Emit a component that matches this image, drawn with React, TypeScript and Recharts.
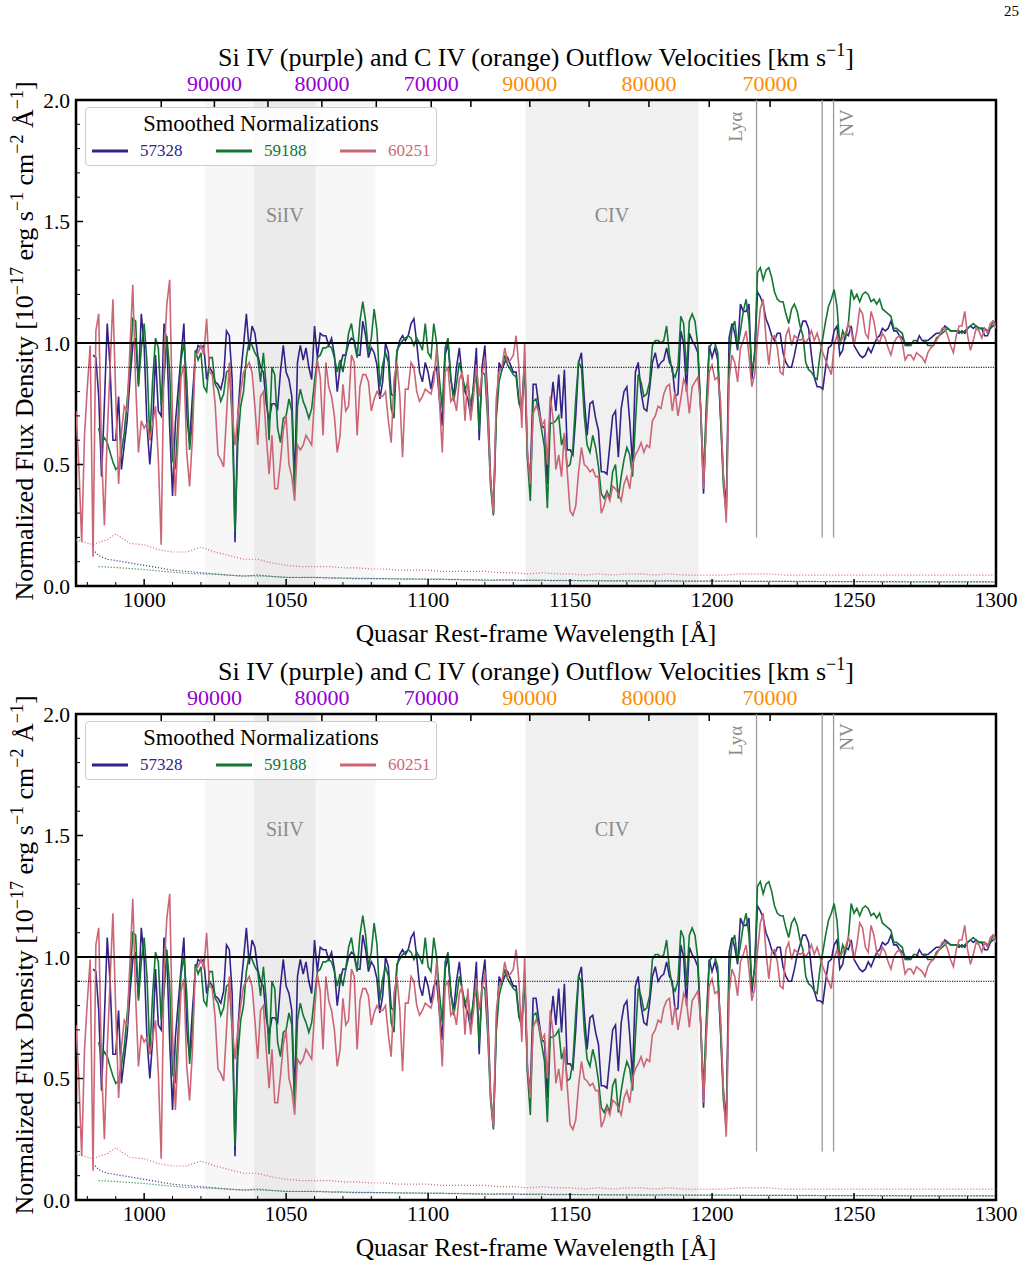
import React from 'react';
import {
  LineChart,
  Line,
  XAxis,
  YAxis,
  ReferenceArea,
  ReferenceLine,
  ReferenceDot,
  Legend,
} from 'recharts';

const SERIF = "'Liberation Serif', 'Times New Roman', Times, serif";
const C_KMS = 299792.458;

// Smoothed, normalized spectra on a 1 Å rest-frame grid starting at 976 Å.
const WAVE_START = 976;

const flux57328 = [
  null, null, null, null, null, null, 0.95, 0.94, 0.78, 0.45,
  0.75, 1.08, 0.90, 0.60, 0.60, 0.78, 0.48, 0.58, 0.68, 0.85,
  0.99, 1.02, 0.83, 1.12, 0.99, 0.66, 0.50, 0.66, 0.95, 0.72,
  0.70, 1.08, 1.00, 0.65, 0.37, 0.67, 0.81, 0.95, 1.08, 0.70,
  0.59, 0.78, 0.94, 0.99, 0.98, 0.99, 0.85, 0.90, 0.88, 0.84,
  0.83, 0.81, 0.86, 1.05, 1.03, 0.85, 0.18, 0.70, 0.87, 0.99,
  1.12, 0.97, 1.07, 1.04, 0.95, 0.90, 0.88, 0.75, 0.68, 0.75,
  0.75, 0.73, 0.88, 0.99, 0.88, 0.85, 0.78, 0.42, 0.92, 0.99,
  0.93, 0.98, 0.90, 0.85, 1.07, 0.94, 1.04, 1.03, 1.03, 0.99,
  1.02, 0.95, 0.80, 0.90, 0.95, 0.95, 1.00, 1.02, 1.01, 0.95,
  0.95, 1.09, 1.03, 0.94, 0.98, 0.96, 0.91, 0.77, 0.84, 1.00,
  0.96, 0.79, 0.78, 0.96, 1.01, 1.03, 1.01, 1.03, 1.08, 1.10,
  1.00, 0.88, 0.84, 0.92, 0.88, 0.81, 0.88, 0.90, 0.77, 0.66,
  0.95, 1.00, 0.85, 0.78, 0.90, 0.98, 0.86, 0.80, 0.77, 0.70,
  0.83, 0.98, 0.60, 0.90, 0.99, 0.77, 0.44, 0.30, 0.71, 0.92,
  0.89, 0.92, 0.94, 0.91, 0.88, 0.88, 0.76, 0.71, 0.92, 0.53,
  0.45, 0.83, 0.83, 0.74, 0.66, 0.65, 0.42, 0.72, 0.84, 0.72,
  0.87, 0.69, 0.89, 0.56, 0.56, 0.54, 0.70, 0.92, 0.96, 0.77,
  0.62, 0.75, 0.76, 0.69, 0.64, 0.47, 0.47, 0.46, 0.58, 0.70,
  0.72, 0.53, 0.73, 0.80, 0.82, 0.68, 0.50, 0.88, 0.92, 0.80,
  0.73, 0.72, 0.81, 0.92, 0.96, 0.90, 0.92, 0.93, 0.98, 0.92,
  0.90, 0.78, 0.79, 1.05, 1.00, 0.80, 1.04, 1.01, 0.99, 0.96,
  0.72, 0.38, 0.70, 0.99, 0.94, 0.98, 0.93, 0.70, 0.45, 0.32,
  1.02, 1.08, 1.04, 0.97, 1.16, 1.13, 1.13, 1.16, 0.85, 0.96,
  1.21, 1.19, 1.16, 1.10, 1.07, 1.03, 1.01, 1.04, 1.04, 0.96,
  0.92, 0.90, 0.90, 0.95, 1.01, 1.05, 1.09, 1.09, 1.06, 0.95,
  0.86, 0.82, 0.82, 0.81, 0.90, 0.98, 0.99, 1.05, 1.07, 0.95,
  0.97, 1.04, 1.03, 1.07, 0.99, 0.97, 0.95, 0.94, 0.95, 0.98,
  0.96, 0.99, 1.02, 1.03, 1.06, 1.05, 1.06, 1.09, 1.05, 1.05,
  1.03, 1.02, 1.00, 0.99, 1.00, 1.00, 1.00, 1.03, 1.01, 1.01,
  1.01, 1.02, 1.03, 1.04, 1.04, 1.05, 1.07, 1.06, 1.05, 1.05,
  1.05, 1.04, 1.05, 1.04, 1.06, 1.07, 1.06, 1.07, 1.06, 1.06,
  1.03, 1.03, 1.06, 1.07, 1.08,
];

const flux59188 = [
  null, null, null, null, null, null, null, null, 0.65, 0.59,
  0.61, 0.59, 0.55, 0.51, 0.48, 0.49, 0.55, 0.63, 0.76, 0.90,
  1.10, 1.09, 0.82, 0.98, 1.08, 0.92, 0.60, 0.85, 1.02, 0.98,
  0.74, 0.85, 1.03, 0.88, 0.52, 0.48, 0.70, 0.93, 1.00, 0.85,
  0.56, 0.68, 0.97, 0.93, 0.96, 0.82, 0.80, 0.94, 0.94, 0.83,
  0.81, 0.76, 0.79, 0.88, 0.89, 0.70, 0.22, 0.59, 0.74, 0.80,
  0.94, 1.01, 0.99, 0.96, 0.94, 0.84, 0.96, 0.82, 0.60, 0.90,
  0.87, 0.65, 0.59, 0.69, 0.70, 0.77, 0.72, 0.38, 0.74, 0.81,
  0.76, 0.73, 0.69, 0.73, 0.84, 0.94, 0.95, 0.98, 0.98, 0.99,
  0.98, 0.94, 0.88, 0.93, 0.88, 0.95, 1.04, 1.08, 1.00, 0.94,
  1.09, 1.17, 1.09, 0.96, 1.02, 1.14, 1.05, 0.82, 0.91, 0.96,
  0.92, 0.73, 0.69, 0.97, 0.99, 1.01, 1.02, 1.03, 1.02, 0.99,
  1.02, 1.00, 0.97, 1.08, 0.96, 0.94, 1.08, 1.00, 0.85, 0.73,
  0.98, 1.02, 0.86, 0.76, 0.83, 0.92, 0.87, 0.81, 0.84, 0.74,
  0.82, 0.87, 0.64, 0.88, 0.87, 0.68, 0.41, 0.29, 0.69, 0.84,
  0.89, 0.95, 0.91, 0.89, 0.87, 0.86, 0.75, 0.74, 0.93, 0.52,
  0.35, 0.76, 0.77, 0.71, 0.64, 0.57, 0.32, 0.67, 0.67, 0.68,
  0.70, 0.58, 0.62, 0.49, 0.50, 0.57, 0.77, 0.92, 0.90, 0.70,
  0.58, 0.55, 0.62, 0.57, 0.49, 0.38, 0.36, 0.39, 0.36, 0.47,
  0.50, 0.36, 0.45, 0.52, 0.57, 0.54, 0.45, 0.67, 0.87, 0.84,
  0.78, 0.79, 0.84, 0.99, 1.01, 1.01, 1.00, 1.01, 1.07, 0.95,
  0.88, 0.86, 0.90, 1.11, 1.08, 0.88, 1.09, 1.12, 1.09, 0.99,
  0.73, 0.45, 0.75, 0.98, 1.00, 1.00, 0.96, 0.69, 0.41, 0.30,
  0.92, 1.06, 1.09, 0.98, 1.05, 1.13, 1.18, 1.09, 0.88, 0.95,
  1.29, 1.31, 1.26, 1.30, 1.31, 1.27, 1.21, 1.18, 1.17, 1.17,
  1.12, 1.08, 1.14, 1.16, 1.13, 1.07, 1.03, 0.92, 0.89, 0.88,
  0.86, 0.85, 0.95, 1.02, 1.09, 1.15, 1.18, 1.22, 1.15, 0.99,
  1.05, 1.02, 1.08, 1.22, 1.18, 1.20, 1.17, 1.20, 1.21, 1.20,
  1.17, 1.18, 1.16, 1.18, 1.14, 1.13, 1.12, 1.11, 1.06, 1.06,
  1.05, 1.04, 0.99, 0.99, 0.99, 1.01, 1.01, 1.00, 1.00, 1.01,
  0.99, 0.99, 0.99, 1.02, 1.03, 1.04, 1.05, 1.06, 1.05, 1.05,
  1.05, 1.05, 1.04, 1.05, 1.06, 1.07, 1.08, 1.07, 1.06, 1.06,
  1.06, 1.05, 1.06, 1.09, 1.08,
];

const flux60251 = [
  0.72, 0.50, 0.18, 0.62, 0.82, 0.99, 0.12, 1.05, 1.12, 0.55,
  0.25, 0.62, 0.90, 1.18, 0.78, 0.42, 0.63, 0.74, 0.72, 0.98,
  1.24, 0.84, 0.55, 0.68, 0.65, 0.67, 0.60, 0.67, 0.74, 0.52,
  0.17, 0.95, 1.16, 1.26, 0.68, 0.37, 0.62, 0.86, 0.91, 0.55,
  0.41, 0.61, 0.95, 0.96, 0.99, 0.95, 1.10, 0.88, 0.87, 0.75,
  0.54, 0.52, 0.49, 0.70, 0.92, 0.72, 0.58, 0.70, 0.80, 0.88,
  0.90, 0.92, 0.88, 0.74, 0.58, 0.78, 0.80, 0.62, 0.46, 0.62,
  0.40, 0.40, 0.51, 0.64, 0.70, 0.50, 0.45, 0.35, 0.58, 0.56,
  0.58, 0.62, 0.60, 0.58, 0.77, 0.93, 0.86, 0.62, 0.92, 0.82,
  0.78, 0.70, 0.55, 0.62, 0.83, 0.72, 0.74, 0.95, 0.92, 0.62,
  0.82, 0.87, 0.87, 0.84, 0.72, 0.77, 0.80, 0.78, 0.78, 0.80,
  0.68, 0.59, 0.85, 0.92, 0.79, 0.53, 0.81, 0.81, 0.92, 0.90,
  0.80, 0.76, 0.78, 0.81, 0.80, 0.79, 0.84, 0.98, 0.76, 0.55,
  0.88, 0.90, 0.76, 0.78, 0.72, 0.85, 0.88, 0.68, 0.87, 0.68,
  0.78, 0.91, 0.78, 0.87, 0.94, 0.72, 0.43, 0.30, 0.77, 0.88,
  0.90, 0.98, 0.92, 0.93, 0.95, 1.03, 0.90, 0.65, 1.00, 0.55,
  0.42, 0.71, 0.74, 0.72, 0.66, 0.68, 0.50, 0.78, 0.69, 0.48,
  0.54, 0.45, 0.63, 0.47, 0.31, 0.29, 0.33, 0.47, 0.57, 0.50,
  0.49, 0.47, 0.48, 0.45, 0.45, 0.30, 0.33, 0.38, 0.35, 0.41,
  0.40, 0.38, 0.35, 0.42, 0.45, 0.40, 0.50, 0.54, 0.56, 0.59,
  0.55, 0.58, 0.57, 0.68, 0.70, 0.74, 0.73, 0.79, 0.82, 0.83,
  0.72, 0.80, 0.70, 0.77, 0.85, 0.82, 0.71, 0.82, 0.84, 0.86,
  0.74, 0.40, 0.67, 0.88, 0.91, 0.85, 0.86, 0.76, 0.45, 0.26,
  0.85, 0.95, 0.92, 0.84, 0.98, 1.01, 1.05, 0.95, 0.82, 0.87,
  1.02, 1.14, 1.18, 1.02, 0.91, 1.02, 1.03, 0.98, 0.88, 0.87,
  1.03, 1.06, 0.99, 1.03, 1.02, 1.01, 1.02, 1.00, 1.02, 1.05,
  1.01, 1.04, 1.00, 0.96, 0.93, 0.90, 0.87, 0.99, 1.03, 1.00,
  1.02, 1.04, 1.08, 1.05, 0.99, 1.05, 1.14, 1.12, 1.04, 1.02,
  1.13, 1.09, 1.02, 1.00, 1.04, 1.02, 0.98, 0.95, 1.00, 1.02,
  1.03, 1.00, 0.93, 0.95, 0.95, 0.93, 0.96, 0.95, 0.94, 0.92,
  0.96, 0.98, 0.99, 1.01, 1.03, 1.06, 1.06, 1.03, 0.99, 0.96,
  1.03, 1.07, 1.07, 1.13, 1.03, 0.97, 1.01, 1.06, 1.05, 1.02,
  1.06, 1.04, 1.08, 1.09, 1.06,
];

const wavelength = flux60251.map((_, i) => WAVE_START + i);

// Flux uncertainties on a coarser grid.
const errWavelength = [976, 979, 982, 984, 987, 990, ...Array.from({ length: 62 }, (_, i) => 995 + 5 * i)];

const err57328 = [
  null, null, 0.15, 0.125, 0.11, 0.105,
  0.095, 0.085, 0.075, 0.065, 0.06, 0.055, 0.05, 0.045, 0.04, 0.045,
  0.04, 0.035, 0.035, 0.035, 0.033, 0.032, 0.03, 0.03, 0.03, 0.028,
  0.028, 0.028, 0.027, 0.026, 0.025, 0.025, 0.024, 0.024, 0.023, 0.023,
  0.022, 0.022, 0.022, 0.021, 0.021, 0.021, 0.02, 0.02, 0.022, 0.02,
  0.02, 0.02, 0.02, 0.02, 0.019, 0.019, 0.019, 0.019, 0.019, 0.018,
  0.018, 0.018, 0.018, 0.018, 0.018, 0.017, 0.017, 0.017, 0.017, 0.017,
  0.017, 0.017,
];

const err59188 = [
  null, null, null, 0.08, 0.078, 0.076,
  0.072, 0.068, 0.062, 0.057, 0.052, 0.05, 0.048, 0.044, 0.042, 0.041,
  0.039, 0.036, 0.035, 0.036, 0.034, 0.033, 0.032, 0.031, 0.03, 0.03,
  0.029, 0.028, 0.028, 0.027, 0.026, 0.023, 0.025, 0.025, 0.024, 0.024,
  0.023, 0.023, 0.022, 0.022, 0.021, 0.021, 0.021, 0.021, 0.02, 0.02,
  0.02, 0.02, 0.02, 0.019, 0.019, 0.019, 0.019, 0.018, 0.018, 0.018,
  0.018, 0.018, 0.018, 0.017, 0.017, 0.017, 0.017, 0.017, 0.017, 0.017,
  0.017, 0.017,
];

const err60251 = [
  0.19, 0.18, 0.17, 0.18, 0.19, 0.215,
  0.175, 0.17, 0.15, 0.14, 0.14, 0.16, 0.14, 0.125, 0.11, 0.11,
  0.095, 0.085, 0.08, 0.08, 0.08, 0.075, 0.075, 0.07, 0.07, 0.065,
  0.065, 0.065, 0.06, 0.06, 0.06, 0.06, 0.055, 0.055, 0.05, 0.055,
  0.05, 0.05, 0.045, 0.05, 0.045, 0.05, 0.05, 0.045, 0.05, 0.045,
  0.045, 0.045, 0.045, 0.05, 0.05, 0.05, 0.045, 0.045, 0.045, 0.045,
  0.045, 0.045, 0.045, 0.045, 0.045, 0.045, 0.045, 0.045, 0.045, 0.045,
  0.045, 0.045,
];

const SERIES = [
  { name: '57328', flux: 'f57328', err: 'e57328', color: '#332288' },
  { name: '59188', flux: 'f59188', err: 'e59188', color: '#117733' },
  { name: '60251', flux: 'f60251', err: 'e60251', color: '#CC6677' },
];

const rows = wavelength.map((w, i) => ({
  w,
  f57328: flux57328[i],
  f59188: flux59188[i],
  f60251: flux60251[i],
}));

const errRows = errWavelength.map((w, i) => ({
  w,
  e57328: err57328[i],
  e59188: err59188[i],
  e60251: err60251[i],
}));

// Axis ticks
const X_DOMAIN = [976, 1300];
const Y_DOMAIN = [0, 2];
const xTicks = Array.from({ length: 33 }, (_, i) => 980 + 10 * i);
const yTicks = Array.from({ length: 21 }, (_, i) => i / 10);

// Outflow velocity scale (km/s) along the top edge
const siIvVelocities = [95000, 90000, 85000, 80000, 75000, 70000];
const cIvVelocities = [95000, 90000, 85000, 80000, 75000, 70000];
const SI_IV_REST = 1396.8;
const C_IV_REST = 1548.2;
const SI_IV_COLOR = '#9400D3';
const C_IV_COLOR = '#FF8C00';

const shiftedWave = (rest: number, v: number) => {
  const b = v / C_KMS;
  return rest * Math.sqrt((1 - b) / (1 + b));
};

const velocityTicks = [
  ...siIvVelocities.map((v) => ({ wave: shiftedWave(SI_IV_REST, v), v, color: SI_IV_COLOR })),
  ...cIvVelocities.map((v) => ({ wave: shiftedWave(C_IV_REST, v), v, color: C_IV_COLOR })),
];

// Absorption windows and emission lines
const siIvWindow = [1021.4, 1081.4];
const siIvCore = [1038.7, 1060.4];
const cIvWindow = [1134.3, 1195.2];
const LY_ALPHA = 1215.67;
const N_V = [1238.8, 1242.8];

// Frame layout inside each panel
const PANEL_W = 1029;
const PANEL_H = 650;
const PLOT_TOP = 100;
const PLOT_BOTTOM = 586;
const PLOT_LEFT = 76;
const PLOT_RIGHT = 996;
const TOP_AXIS_H = 40;
const LEFT_AXIS_W = 60;

const BottomTick = (props: any) => {
  const { x, y, payload } = props;
  const v = payload.value;
  const major = v % 50 === 0;
  return (
    <g>
      <line x1={x} x2={x} y1={y} y2={y - (major ? 7 : 4)} stroke="#000" strokeWidth={major ? 1.5 : 1} />
      {major && (
        <text x={x} y={y + 21} textAnchor="middle" fontSize={21.5} fontFamily={SERIF} fill="#000">
          {v}
        </text>
      )}
    </g>
  );
};

const LeftTick = (props: any) => {
  const { x, y, payload } = props;
  const v = payload.value;
  const major = Math.abs(v * 2 - Math.round(v * 2)) < 1e-6;
  return (
    <g>
      <line x1={x} x2={x + (major ? 7 : 4)} y1={y} y2={y} stroke="#000" strokeWidth={major ? 1.5 : 1} />
      {major && (
        <text x={x - 6} y={y + 7.5} textAnchor="end" fontSize={21.5} fontFamily={SERIF} fill="#000">
          {v.toFixed(1)}
        </text>
      )}
    </g>
  );
};

const velocityTickShape = (t: { v: number; color: string }) => (p: any) => (
  <g>
    <line x1={p.cx} x2={p.cx} y1={p.cy} y2={p.cy + 7} stroke="#000" strokeWidth={1.5} />
    {t.v % 10000 === 0 && (
      <text x={p.cx} y={p.cy - 9.5} textAnchor="middle" fontSize={22} fontFamily={SERIF} fill={t.color}>
        {t.v}
      </text>
    )}
  </g>
);

const TitleLabel = (props: any) => {
  const { viewBox } = props;
  return (
    <text
      x={viewBox.x + viewBox.width / 2}
      y={viewBox.y + viewBox.height - 34}
      textAnchor="middle"
      fontSize={26}
      fontFamily={SERIF}
      fill="#000"
    >
      <tspan>Si IV (purple) and C IV (orange) Outflow Velocities [km s</tspan>
      <tspan dy={-10} fontSize={18}>−1</tspan>
      <tspan dy={10}>]</tspan>
    </text>
  );
};

const XTitle = (props: any) => {
  const { viewBox } = props;
  return (
    <text x={viewBox.x + viewBox.width / 2} y={viewBox.y + 56} textAnchor="middle" fontSize={25.5} fontFamily={SERIF} fill="#000">
      Quasar Rest-frame Wavelength [Å]
    </text>
  );
};

const YTitle = (props: any) => {
  const { viewBox } = props;
  const cx = viewBox.x + viewBox.width - 43.5;
  const cy = viewBox.y + viewBox.height / 2 - 2;
  return (
    <text x={cx} y={cy} transform={`rotate(-90 ${cx} ${cy})`} textAnchor="middle" fontSize={26} fontFamily={SERIF} fill="#000">
      <tspan>Normalized Flux Density [10</tspan>
      <tspan dy={-10} fontSize={18}>−17</tspan>
      <tspan dy={10}> erg s</tspan>
      <tspan dy={-10} fontSize={18}>−1</tspan>
      <tspan dy={10}> cm</tspan>
      <tspan dy={-10} fontSize={18}>−2</tspan>
      <tspan dy={10}> Å</tspan>
      <tspan dy={-10} fontSize={18}>−1</tspan>
      <tspan dy={10}>]</tspan>
    </text>
  );
};

const bandText = (text: string) => (p: any) => (
  <text x={p.cx} y={p.cy} textAnchor="middle" fontSize={20} fontFamily={SERIF} fill="#8a8a8a">
    {text}
  </text>
);

const lineText = (text: string) => (p: any) => (
  <text
    x={p.cx}
    y={p.cy}
    transform={`rotate(-90 ${p.cx} ${p.cy})`}
    textAnchor="middle"
    fontSize={19}
    fontFamily={SERIF}
    fill="#8a8a8a"
  >
    {text}
  </text>
);

const LegendBox = () => (
  <div
    style={{
      width: 352,
      height: 59,
      boxSizing: 'border-box',
      background: 'rgba(255,255,255,0.8)',
      border: '1px solid #cccccc',
      borderRadius: 4,
      position: 'relative',
      fontFamily: SERIF,
    }}
  >
    <div
      style={{
        position: 'absolute',
        top: 1,
        left: 0,
        width: '100%',
        textAlign: 'center',
        fontSize: 22.5,
        lineHeight: '30px',
        color: '#000',
      }}
    >
      Smoothed Normalizations
    </div>
    {SERIES.map((s, i) => (
      <div key={s.name} style={{ position: 'absolute', left: 5 + i * 124, top: 32, height: 22, display: 'flex', alignItems: 'center' }}>
        <svg width={38} height={22} style={{ display: 'block' }}>
          <line x1={1} x2={37} y1={11} y2={11} stroke={s.color} strokeWidth={3} />
        </svg>
        <span style={{ color: s.color, fontSize: 17, marginLeft: 11, lineHeight: '22px' }}>{s.name}</span>
      </div>
    ))}
  </div>
);

const Panel = () => (
  <LineChart
    width={PANEL_W}
    height={PANEL_H}
    data={rows}
    margin={{
      top: PLOT_TOP - TOP_AXIS_H,
      right: PANEL_W - PLOT_RIGHT,
      bottom: 0,
      left: PLOT_LEFT - LEFT_AXIS_W,
    }}
  >
    <XAxis
      dataKey="w"
      type="number"
      domain={X_DOMAIN}
      allowDataOverflow
      ticks={xTicks}
      interval={0}
      tick={BottomTick}
      tickSize={0}
      tickMargin={0}
      axisLine={false}
      tickLine={false}
      height={PANEL_H - PLOT_BOTTOM}
      label={XTitle}
    />
    <XAxis
      xAxisId="top"
      orientation="top"
      type="number"
      domain={X_DOMAIN}
      allowDataOverflow
      ticks={[]}
      tick={false}
      axisLine={false}
      tickLine={false}
      height={TOP_AXIS_H}
      label={TitleLabel}
    />
    <YAxis
      type="number"
      domain={Y_DOMAIN}
      allowDataOverflow
      ticks={yTicks}
      interval={0}
      tick={LeftTick}
      tickSize={0}
      tickMargin={0}
      axisLine={false}
      tickLine={false}
      width={LEFT_AXIS_W}
      label={YTitle}
    />

    <ReferenceArea x1={siIvWindow[0]} x2={siIvWindow[1]} y1={0} y2={2} fill="#f7f7f7" fillOpacity={1} stroke="none" />
    <ReferenceArea x1={siIvCore[0]} x2={siIvCore[1]} y1={0} y2={2} fill="#ebebeb" fillOpacity={1} stroke="none" />
    <ReferenceArea x1={cIvWindow[0]} x2={cIvWindow[1]} y1={0} y2={2} fill="#f0f0f0" fillOpacity={1} stroke="none" />

    <ReferenceDot x={(siIvCore[0] + siIvCore[1]) / 2} y={1.5} r={1} shape={bandText('SiIV')} />
    <ReferenceDot x={(cIvWindow[0] + cIvWindow[1]) / 2} y={1.5} r={1} shape={bandText('CIV')} />
    <ReferenceDot x={LY_ALPHA - 5} y={1.89} r={1} shape={lineText('Lyα')} />
    <ReferenceDot x={N_V[1] + 6.7} y={1.905} r={1} shape={lineText('NV')} />

    <ReferenceLine segment={[{ x: LY_ALPHA, y: 0.2 }, { x: LY_ALPHA, y: 2 }]} stroke="#9a9a9a" strokeWidth={1.3} />
    <ReferenceLine segment={[{ x: N_V[0], y: 0.2 }, { x: N_V[0], y: 2 }]} stroke="#9a9a9a" strokeWidth={1.3} />
    <ReferenceLine segment={[{ x: N_V[1], y: 0.2 }, { x: N_V[1], y: 2 }]} stroke="#9a9a9a" strokeWidth={1.3} />

    {SERIES.map((s) => (
      <Line
        key={s.err}
        data={errRows}
        dataKey={s.err}
        stroke={s.color}
        strokeWidth={1.2}
        strokeDasharray="1 2"
        dot={false}
        activeDot={false}
        legendType="none"
        isAnimationActive={false}
      />
    ))}
    {SERIES.map((s) => (
      <Line
        key={s.flux}
        dataKey={s.flux}
        name={s.name}
        stroke={s.color}
        strokeWidth={1.6}
        dot={false}
        activeDot={false}
        isAnimationActive={false}
      />
    ))}

    <ReferenceLine y={1} stroke="#000" strokeWidth={1.8} />
    <ReferenceLine y={0.9} stroke="#000" strokeWidth={1} strokeDasharray="1.2 1.2" />

    <ReferenceArea x1={X_DOMAIN[0]} x2={X_DOMAIN[1]} y1={0} y2={2} fill="none" stroke="#000" strokeWidth={2.5} />

    {velocityTicks.map((t) => (
      <ReferenceDot key={`${t.color}-${t.v}`} x={t.wave} y={Y_DOMAIN[1]} r={1} shape={velocityTickShape(t)} />
    ))}

    <Legend
      layout="horizontal"
      verticalAlign="middle"
      align="center"
      content={LegendBox}
      wrapperStyle={{ left: 85, top: 107, width: 352, height: 59 }}
    />
  </LineChart>
);

export default function App() {
  return (
    <div style={{ position: 'absolute', left: 0, top: 0, width: 1029, height: 1287, background: '#fff', fontFamily: SERIF }}>
      <div style={{ position: 'absolute', left: 1004, top: 3, fontSize: 15, fontFamily: SERIF, color: '#000' }}>25</div>
      <div style={{ position: 'absolute', left: 0, top: 0 }}>
        <Panel />
      </div>
      <div style={{ position: 'absolute', left: 0, top: 614 }}>
        <Panel />
      </div>
    </div>
  );
}
